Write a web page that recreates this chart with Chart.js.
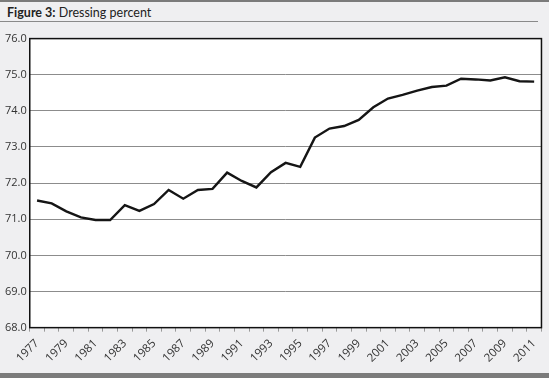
<!DOCTYPE html>
<html>
<head>
<meta charset="utf-8">
<script src="https://cdn.jsdelivr.net/npm/chart.js@4"></script>
<style>
  html, body { margin: 0; padding: 0; }
  body { width: 549px; height: 378px; background: #efeff1; position: relative; overflow: hidden; font-family: "Open Sans", "Noto Sans", sans-serif; }
  #topbar { position: absolute; left: 0; top: 0; width: 549px; height: 2px; background: #7b7b7b; }
  #title { position: absolute; left: 7px; top: 5px; font-family: Lato, "Open Sans", sans-serif; font-size: 12.5px; color: #222; }
  #title b { font-weight: 700; }
  #rule { position: absolute; left: 0; top: 21px; width: 538px; height: 1px; background: #8a8a8a; }
  #botbar { position: absolute; left: 0; top: 373px; width: 549px; height: 5px; background: #7b7b7b; }
  #wrap { position: absolute; left: 0; top: 29px; width: 549px; height: 346px; }
</style>
</head>
<body>
<div id="topbar"></div>
<div id="title"><b>Figure 3:</b> Dressing percent</div>
<div id="rule"></div>
<div id="wrap"><canvas id="c"></canvas></div>
<div id="botbar"></div>
<script>
const years = ["1977","1978","1979","1980","1981","1982","1983","1984","1985","1986","1987","1988","1989","1990","1991","1992","1993","1994","1995","1996","1997","1998","1999","2000","2001","2002","2003","2004","2005","2006","2007","2008","2009","2010","2011"];
const dressingPercent = [71.52,71.44,71.22,71.05,70.98,70.98,71.39,71.23,71.42,71.81,71.57,71.81,71.84,72.29,72.06,71.88,72.30,72.56,72.45,73.26,73.51,73.58,73.75,74.10,74.34,74.44,74.56,74.66,74.70,74.89,74.87,74.84,74.93,74.82,74.81];
const yMin = 68, yMax = 76, yStep = 1;

const boxPlugin = {
  id: 'box',
  afterDraw(chart) {
    const {ctx, chartArea: a} = chart;
    ctx.save();
    ctx.strokeStyle = '#111';
    ctx.lineWidth = 1.5;
    ctx.strokeRect(a.left, a.top, a.right - a.left, a.bottom - a.top);
    ctx.restore();
  }
};
const bgPlugin = {
  id: 'bg',
  beforeDraw(chart) {
    const {ctx, chartArea: a} = chart;
    ctx.save();
    ctx.fillStyle = '#ffffff';
    ctx.fillRect(a.left, a.top, a.right - a.left, a.bottom - a.top);
    ctx.restore();
  }
};

new Chart(document.getElementById('c'), {
  type: 'line',
  data: {
    labels: years,
    datasets: [{
      data: dressingPercent,
      borderColor: '#151515',
      borderWidth: 2.4,
      pointRadius: 0,
      tension: 0,
      fill: false
    }]
  },
  options: {
    responsive: true,
    maintainAspectRatio: false,
    animation: false,
    layout: { padding: { left: 2, right: 6, top: 4, bottom: 5 } },
    plugins: { legend: { display: false }, tooltip: { enabled: false } },
    scales: {
      x: {
        offset: true,
        grid: { display: true, drawOnChartArea: false, drawTicks: true, tickLength: 4, color: '#999', offset: true },
        border: { display: false },
        ticks: {
          autoSkip: false,
          minRotation: 45,
          maxRotation: 45,
          color: '#333',
          font: { family: "'Open Sans', 'Noto Sans', sans-serif", size: 11.5 },
          padding: 5,
          callback: function(v, i) { return i % 2 === 0 ? years[i] : ''; }
        }
      },
      y: {
        min: yMin, max: yMax,
        grid: { color: '#8c8c8c', lineWidth: 1, drawTicks: false },
        border: { display: false },
        ticks: {
          stepSize: yStep,
          color: '#333',
          padding: 3,
          font: { family: "'Open Sans', 'Noto Sans', sans-serif", size: 11 },
          callback: function(v) { return Number(v).toFixed(1); }
        }
      }
    }
  },
  plugins: [bgPlugin, boxPlugin]
});
</script>
</body>
</html>
